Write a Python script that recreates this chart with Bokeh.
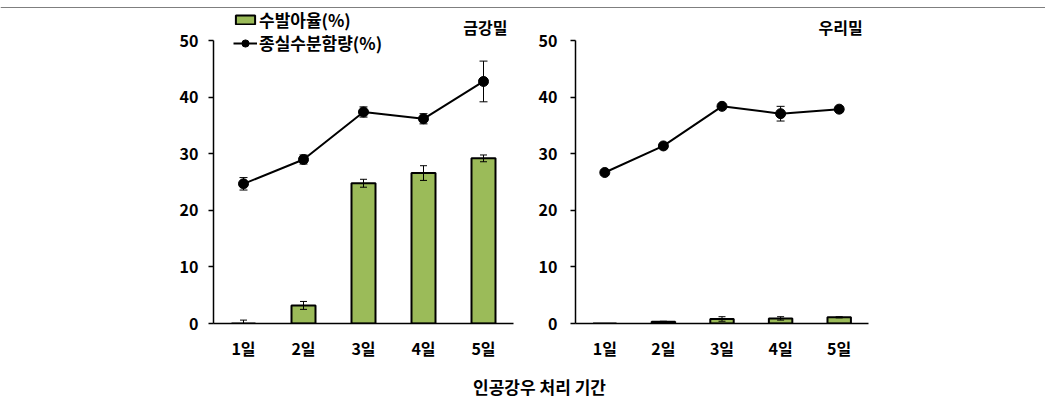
from bokeh.plotting import figure
from bokeh.models import (ColumnDataSource, Range1d, FixedTicker, Whisker, TeeHead,
                          Legend, LegendItem, Label, Span)
from bokeh.layouts import column, row
from bokeh.embed import file_html
from bokeh.resources import INLINE

# ---------------- data ----------------
days = ["1일", "2일", "3일", "4일", "5일"]
day_pos = [1, 2, 3, 4, 5]

gg_germ = [0.0, 3.2, 24.8, 26.6, 29.2]
gg_germ_err = [0.6, 0.7, 0.7, 1.3, 0.6]
gg_moist = [24.7, 29.0, 37.4, 36.2, 42.8]
gg_moist_err = [1.1, 0.8, 0.9, 0.9, 3.6]

wr_germ = [0.0, 0.3, 0.8, 0.9, 1.1]
wr_germ_err = [0.0, 0.1, 0.4, 0.3, 0.1]
wr_moist = [26.7, 31.4, 38.4, 37.1, 37.9]
wr_moist_err = [0.4, 0.5, 0.5, 1.3, 0.5]

titles = ["금강밀", "우리밀"]
legend_labels = ["수발아율(%)", "종실수분함량(%)"]
x_title = "인공강우 처리 기간"
y_ticks = [0, 10, 20, 30, 40, 50]

FONT = "Noto Sans CJK KR"
GREEN = "#9BBB59"


def panel(germ, germ_err, moist, moist_err, title, left_border, frame_w,
          right_border, standoff, with_legend):
    p = figure(width=left_border + frame_w + right_border, height=354,
               x_range=Range1d(0.5, 5.5), y_range=Range1d(0, 55.7),
               output_backend="svg", toolbar_location=None,
               min_border_left=left_border, min_border_right=right_border,
               min_border_top=0, min_border_bottom=39)
    p.outline_line_color = None
    p.xgrid.visible = False
    p.ygrid.visible = False
    p.background_fill_color = "white"
    p.border_fill_color = "white"

    src = ColumnDataSource(dict(
        x=day_pos, germ=germ,
        g_up=[v + e for v, e in zip(germ, germ_err)],
        g_lo=[v - e for v, e in zip(germ, germ_err)],
        moist=moist,
        m_up=[v + e for v, e in zip(moist, moist_err)],
        m_lo=[v - e for v, e in zip(moist, moist_err)],
    ))

    bars = p.vbar(x="x", top="germ", bottom=0, width=0.4, source=src,
                  fill_color=GREEN, line_color="black", line_width=2)
    p.add_layout(Whisker(source=src, base="x", upper="g_up", lower="g_lo",
                         line_color="black", line_width=1, level="overlay",
                         upper_head=TeeHead(size=7, line_width=1),
                         lower_head=TeeHead(size=7, line_width=1)))

    ln = p.line(x="x", y="moist", source=src, line_color="black", line_width=2)
    sc = p.scatter(x="x", y="moist", source=src, size=10, marker="circle",
                   fill_color="black", line_color="black")
    p.add_layout(Whisker(source=src, base="x", upper="m_up", lower="m_lo",
                         line_color="black", line_width=1, level="overlay",
                         upper_head=TeeHead(size=8, line_width=1),
                         lower_head=TeeHead(size=8, line_width=1)))

    # axes
    p.yaxis.ticker = FixedTicker(ticks=y_ticks)
    p.yaxis.bounds = (0, 50)
    p.yaxis.minor_tick_line_color = None
    p.yaxis.major_tick_out = 5
    p.yaxis.major_tick_in = 0
    p.yaxis.major_label_standoff = standoff
    p.xaxis.ticker = FixedTicker(ticks=day_pos)
    p.xaxis.major_label_overrides = {i: d for i, d in zip(day_pos, days)}
    p.xaxis.major_tick_out = 0
    p.xaxis.major_tick_in = 0
    p.xaxis.minor_tick_line_color = None
    p.xaxis.major_label_standoff = 12
    for ax in (p.xaxis, p.yaxis):
        ax.axis_line_color = "black"
        ax.axis_line_width = 1.5
        ax.major_tick_line_color = "black"
        ax.major_tick_line_width = 1.5
        ax.major_label_text_font = FONT
        ax.major_label_text_font_size = "16px"
        ax.major_label_text_font_style = "bold"
        ax.major_label_text_color = "black"

    p.add_layout(Label(x=5.4, y=52.5, text=title, text_align="right",
                       text_baseline="middle", text_font=FONT,
                       text_font_size="16px", text_font_style="bold",
                       text_color="black"))

    if with_legend:
        common = dict(orientation="vertical", glyph_width=24, label_height=24,
                      label_standoff=2, spacing=0, padding=0, margin=0,
                      border_line_color=None, background_fill_alpha=0,
                      label_text_font=FONT, label_text_font_size="17px",
                      label_text_font_style="bold", label_text_color="black")
        leg1 = Legend(items=[LegendItem(label=legend_labels[0], renderers=[bars])],
                      location=(20, 291), glyph_height=11, **common)
        leg2 = Legend(items=[LegendItem(label=legend_labels[1], renderers=[ln, sc])],
                      location=(20, 268), glyph_height=18, **common)
        p.add_layout(leg1)
        p.add_layout(leg2)
    return p


pA = panel(gg_germ, gg_germ_err, gg_moist, gg_moist_err, titles[0],
           213, 300, 22, 10, True)
pB = panel(wr_germ, wr_germ_err, wr_moist, wr_moist_err, titles[1],
           37, 296, 177, 13, False)

# top rule
pT = figure(width=1045, height=8, x_range=Range1d(0, 1045), y_range=Range1d(0, 8),
            output_backend="svg", toolbar_location=None, min_border=0,
            x_axis_location=None, y_axis_location=None)
pT.outline_line_color = None
pT.grid.visible = False
pT.add_layout(Span(location=4, dimension="width", line_color="black", line_width=2))

# shared x title
pC = figure(width=1045, height=39, x_range=Range1d(0, 1045), y_range=Range1d(0, 39),
            output_backend="svg", toolbar_location=None, min_border=0,
            x_axis_location=None, y_axis_location=None)
pC.outline_line_color = None
pC.grid.visible = False
pC.add_layout(Label(x=539, y=15, text=x_title, text_align="center",
                    text_baseline="middle", text_font=FONT, text_font_size="17px",
                    text_font_style="bold", text_color="black"))

layout = column(pT, row(pA, pB, spacing=0), pC, spacing=0)
open("out.html", "w").write(file_html(layout, INLINE))
